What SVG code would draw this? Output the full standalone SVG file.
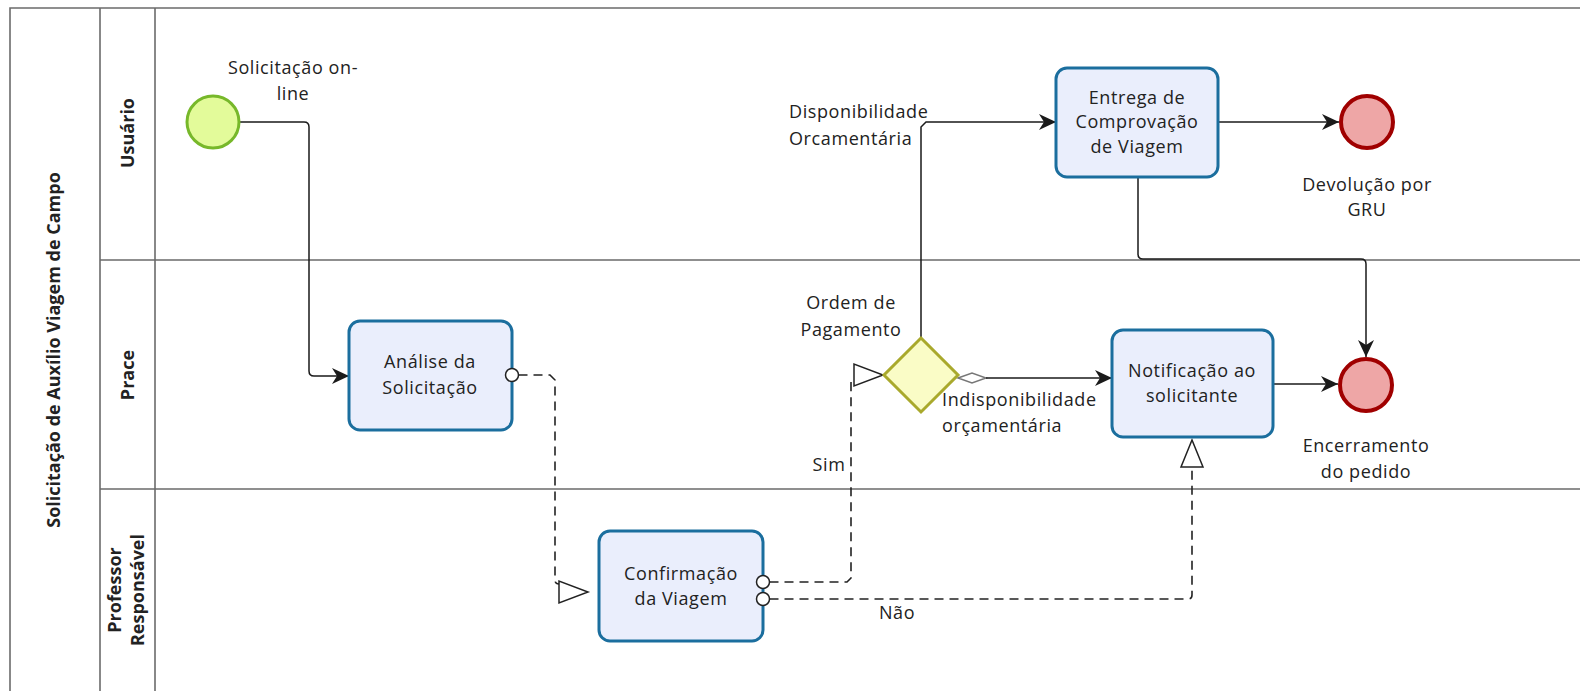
<svg xmlns="http://www.w3.org/2000/svg" width="1580" height="691" viewBox="0 0 1580 691">
<style>
text{font-family:"Open Sans","Noto Sans","Liberation Sans",sans-serif;font-size:18px;fill:#222;letter-spacing:0.6px}
.b{font-weight:bold;letter-spacing:0}
.c{text-anchor:middle}
.lane{stroke:#6b6b6b;stroke-width:1.6;fill:none}
.task{fill:#eaeefc;stroke:#1b6e9e;stroke-width:3}
.flow{fill:none;stroke:#1a1a1a;stroke-width:1.5}
.msg{fill:none;stroke:#222;stroke-width:1.6;stroke-dasharray:9 6}
.mh{fill:#fff;stroke:#222;stroke-width:1.5}
.end{fill:#eea6a6;stroke:#a00000;stroke-width:4}
</style>
<defs>
<marker id="arr" markerWidth="19" markerHeight="18" refX="17" refY="8" orient="auto" markerUnits="userSpaceOnUse">
<path d="M0,0 L17,8 L0,16 L5,8 Z" fill="#1a1a1a"/>
</marker>
</defs>
<rect width="1580" height="691" fill="#fff"/>
<g id="pool">
<path class="lane" d="M10,691 V8 H1580"/>
<path class="lane" d="M100,8 V691 M155,8 V691 M100,260 H1580 M100,489 H1580"/>
<text class="b c" transform="rotate(-90 60 350)" x="60" y="350">Solicitação de Auxílio Viagem de Campo</text>
</g>
<g id="lane-usuario"><text class="b c" transform="rotate(-90 134 133)" x="134" y="133">Usuário</text></g>
<g id="lane-prace"><text class="b c" transform="rotate(-90 134 375)" x="134" y="375">Prace</text></g>
<g id="lane-professor">
<text class="b c" transform="rotate(-90 121 590)" x="121" y="590">Professor</text>
<text class="b c" transform="rotate(-90 144 590)" x="144" y="590">Responsável</text>
</g>
<g id="connectors">
<path class="flow" d="M240,122 H304 Q309,122 309,127 V371 Q309,376 314,376 H349" marker-end="url(#arr)"/>
<path class="msg" d="M518.5,375 H550 L555,380 V580 Q555,584 559,584"/>
<polygon class="mh" points="559,581 559,603 588,592"/>
<path class="msg" d="M769.5,582 H847 L851,578 V383 Q851,379 854,379"/>
<polygon class="mh" points="854,364 854,386 883,375"/>
<path class="msg" d="M769.5,599 H1188 Q1192,599 1192,595 V467"/>
<polygon class="mh" points="1181,467 1203,467 1192,440"/>
<path class="flow" d="M921,338 V127 L926,122 H1056" marker-end="url(#arr)"/>
<polygon class="mh" points="958,378 972,373 986,378 972,383" style="stroke:#777"/>
<path class="flow" d="M986,378 H1112" marker-end="url(#arr)"/>
<path class="flow" d="M1218,122 H1339" marker-end="url(#arr)"/>
<path class="flow" d="M1138,177 V254 Q1138,259 1143,259 H1361 Q1366,259 1366,264 V357" marker-end="url(#arr)"/>
<path class="flow" d="M1273,384 H1338" marker-end="url(#arr)"/>
<text class="c" x="829" y="471">Sim</text>
<text class="c" x="897" y="619">Não</text>
<text x="789" y="118">Disponibilidade</text>
<text x="789" y="145">Orcamentária</text>
<text x="942" y="406">Indisponibilidade</text>
<text x="942" y="432">orçamentária</text>
</g>
<g id="start">
<circle cx="213" cy="122" r="26" fill="#e3fb9a" stroke="#77b82a" stroke-width="3"/>
<text class="c" x="293" y="74">Solicitação on-</text>
<text class="c" x="293" y="100">line</text>
</g>
<g id="analise">
<rect class="task" x="349" y="321" width="163" height="109" rx="11"/>
<text class="c" x="430" y="368">Análise da</text>
<text class="c" x="430" y="394">Solicitação</text>
</g>
<g id="confirmacao">
<rect class="task" x="599" y="531" width="164" height="110" rx="11"/>
<text class="c" x="681" y="580">Confirmação</text>
<text class="c" x="681" y="605">da Viagem</text>
</g>
<g id="gateway">
<polygon points="921,338 958,375 921,412 884,375" fill="#fafcc6" stroke="#a9a92c" stroke-width="3"/>
<text class="c" x="851" y="309">Ordem de</text>
<text class="c" x="851" y="336">Pagamento</text>
</g>
<g id="entrega">
<rect class="task" x="1056" y="68" width="162" height="109" rx="11"/>
<text class="c" x="1137" y="104">Entrega de</text>
<text class="c" x="1137" y="128">Comprovação</text>
<text class="c" x="1137" y="153">de Viagem</text>
</g>
<g id="notificacao">
<rect class="task" x="1112" y="330" width="161" height="107" rx="11"/>
<text class="c" x="1192" y="377">Notificação ao</text>
<text class="c" x="1192" y="402">solicitante</text>
</g>
<g id="end-gru">
<circle class="end" cx="1367" cy="122" r="26"/>
<text class="c" x="1367" y="191">Devolução por</text>
<text class="c" x="1367" y="216">GRU</text>
</g>
<g id="end-pedido">
<circle class="end" cx="1366" cy="385" r="26"/>
<text class="c" x="1366" y="452">Encerramento</text>
<text class="c" x="1366" y="478">do pedido</text>
</g>
<g id="message-sources">
<circle class="mh" cx="512" cy="375" r="6.5"/>
<circle class="mh" cx="763" cy="582" r="6.5"/>
<circle class="mh" cx="763" cy="599" r="6.5"/>
</g>
</svg>
